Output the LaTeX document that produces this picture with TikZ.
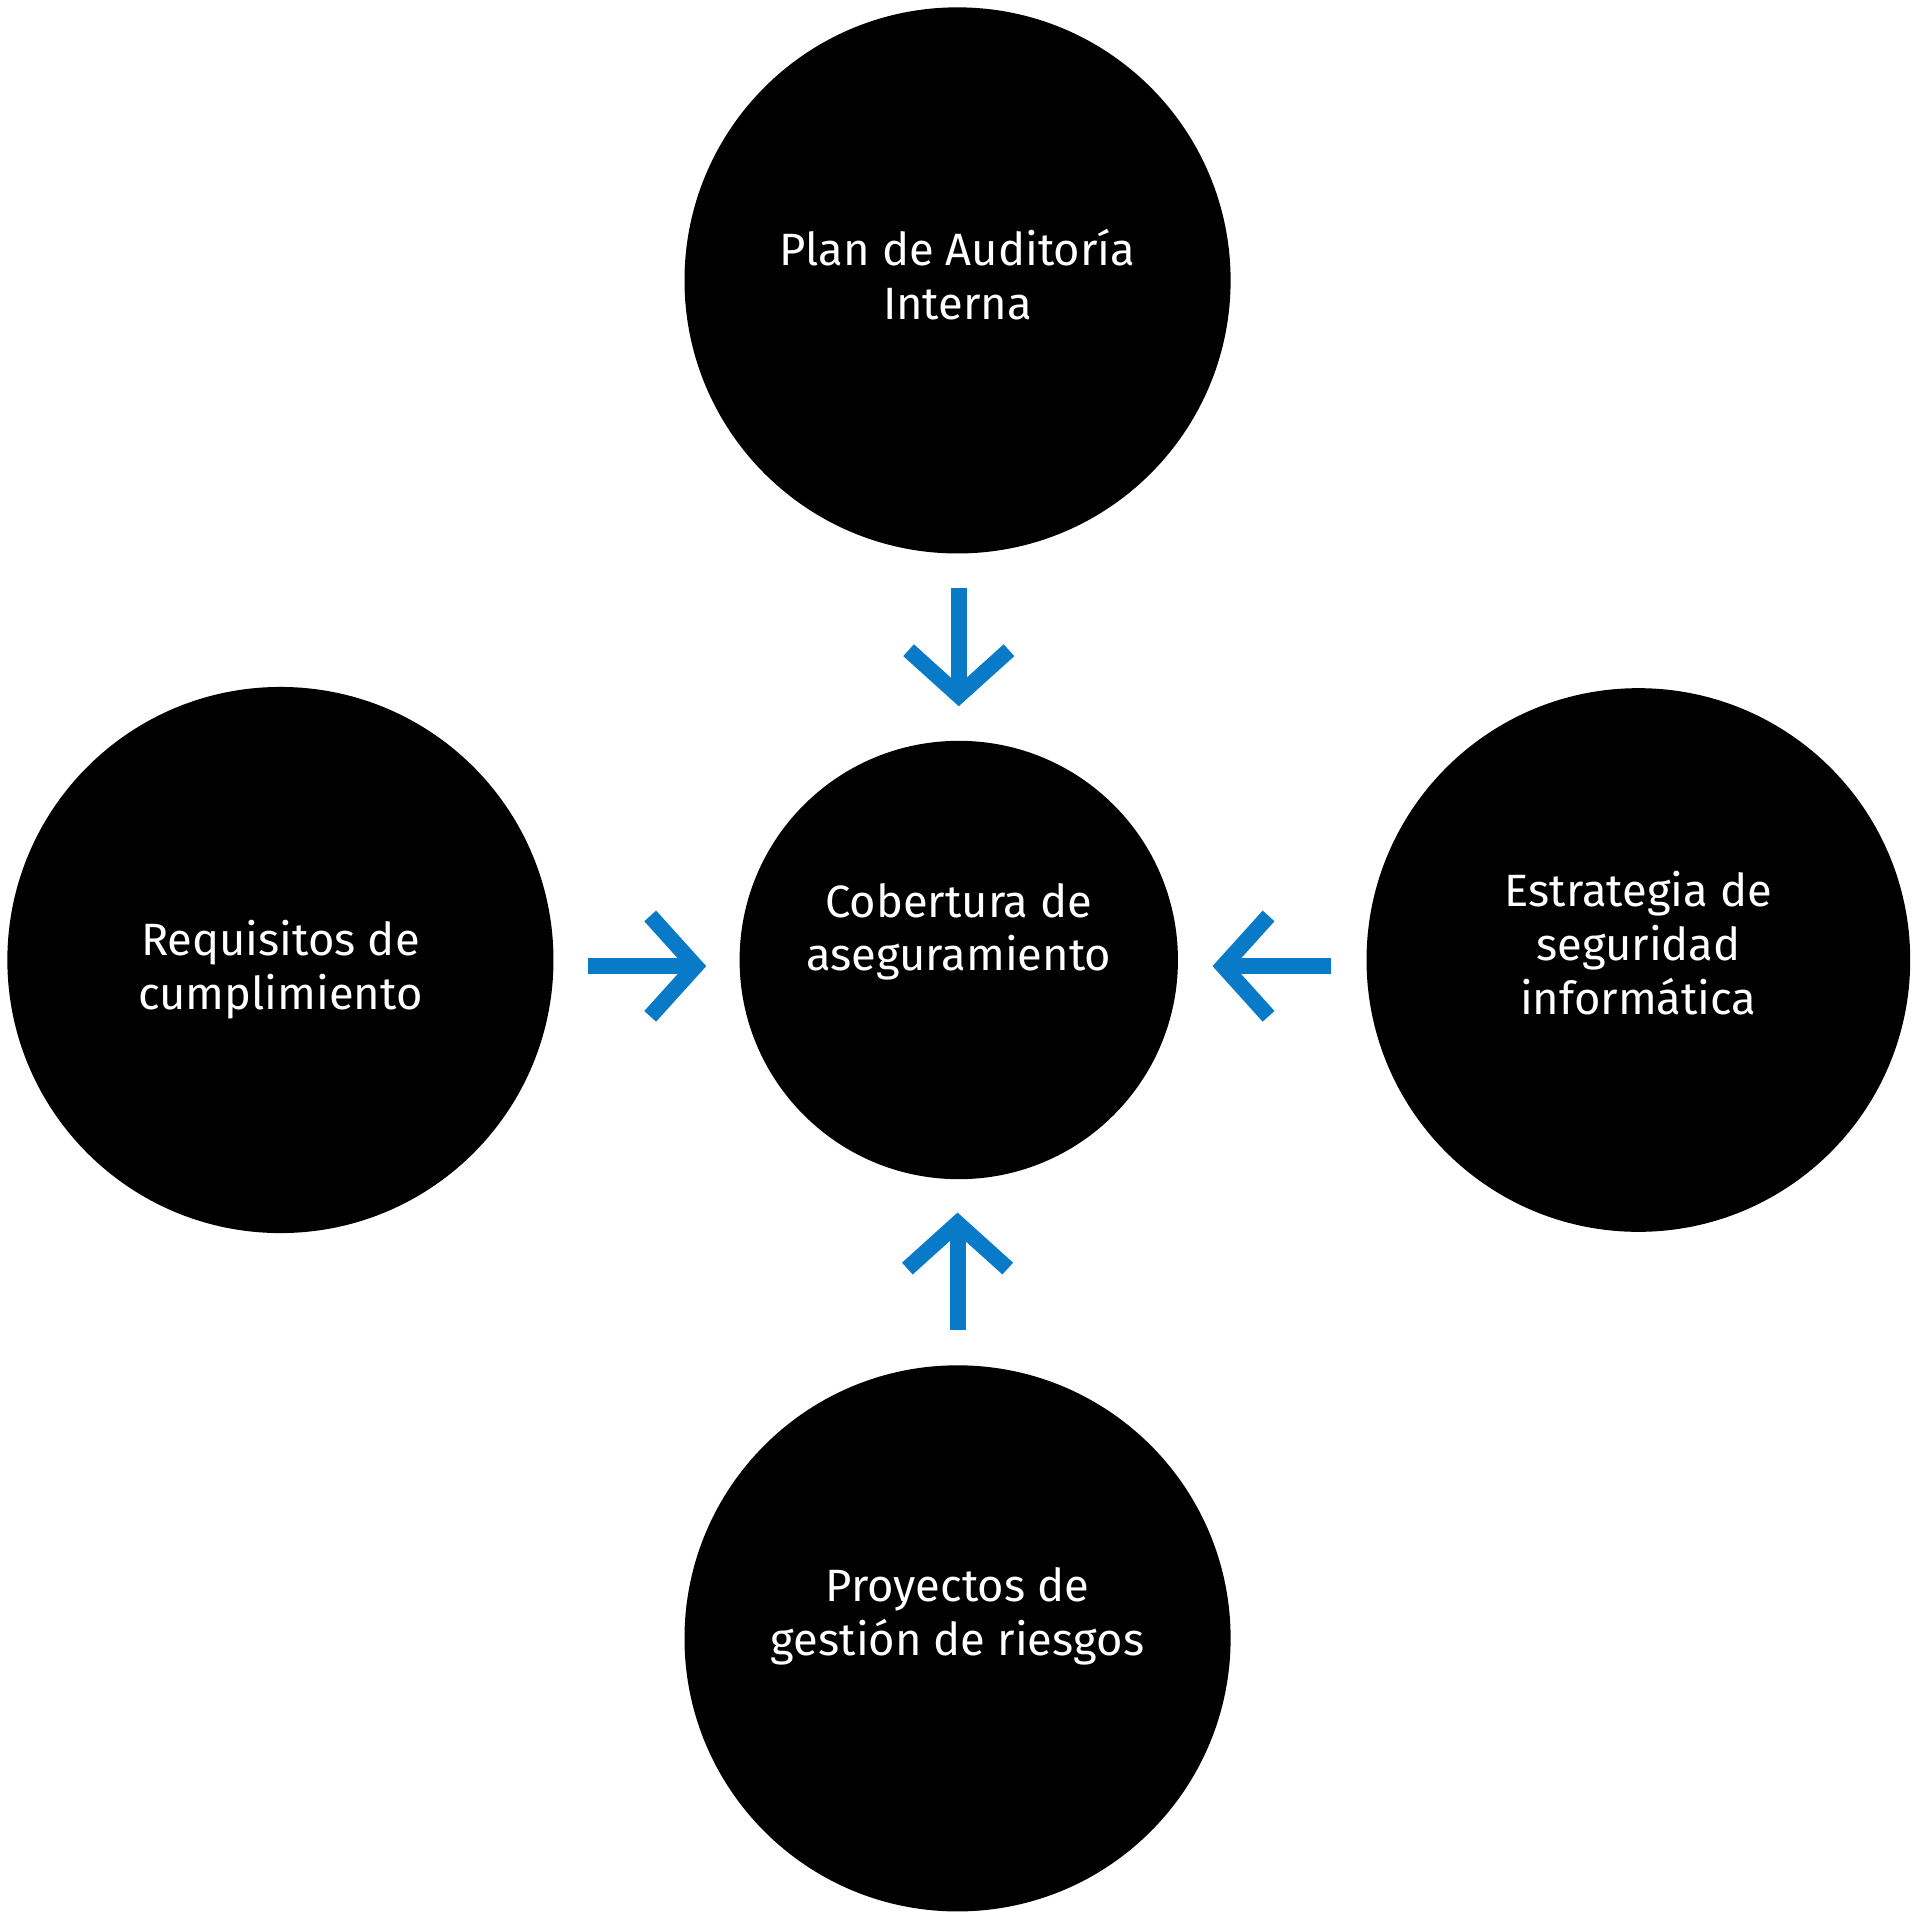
\documentclass[tikz,border=0pt]{standalone}
\usepackage{fontspec}
\setmainfont{Fira Sans}
\begin{document}
\begin{tikzpicture}[x=1pt,y=-1pt,
  circ/.style={circle,fill=black,inner sep=0pt},
  lbl/.style={text=white,align=center,font=\fontsize{37}{44}\selectfont,inner sep=0pt}]
\definecolor{ab}{RGB}{8,122,200}
\tikzset{arr/.style={draw=ab,line width=13pt},chev/.style={draw=ab,line width=13pt,miter limit=10}}
\useasboundingbox (0,0) rectangle (1568,1568);
\node[circ,minimum size=446pt] (t) at (782,229) {};
\node[circ,minimum size=446pt] (l) at (229,784) {};
\node[circ,minimum size=444pt] (r) at (1338,784) {};
\node[circ,minimum size=446pt] (b) at (782,1338) {};
\node[circ,minimum size=358pt] (c) at (783,784) {};
\node[lbl] (tl) at (782,224) {Plan de Auditoría\\Interna};
\node[lbl] (ll) at (229,792) {Requisitos de\\cumplimiento};
\node[lbl] (rl) at (1338,770) {Estrategia de\\seguridad\\informática};
\node[lbl] (bl) at (782,1320) {Proyectos de\\gestión de riesgos};
\node[lbl] (cl) at (783,761) {Cobertura de\\aseguramiento};
\coordinate (td1) at (783,480); \coordinate (td2) at (783,560);
\draw[arr] (td1) -- (td2);
\draw[chev] (742,531) -- (783,568) -- (824,531);
\coordinate (ld1) at (480,789); \coordinate (ld2) at (560,789);
\draw[arr] (ld1) -- (ld2);
\draw[chev] (531,748) -- (568,789) -- (531,830);
\coordinate (rd1) at (1087,789); \coordinate (rd2) at (1008,789);
\draw[arr] (rd1) -- (rd2);
\draw[chev] (1036,748) -- (999,789) -- (1036,830);
\coordinate (bd1) at (782,1086); \coordinate (bd2) at (782,1008);
\draw[arr] (bd1) -- (bd2);
\draw[chev] (741,1036) -- (782,999) -- (823,1036);
\end{tikzpicture}
\end{document}
